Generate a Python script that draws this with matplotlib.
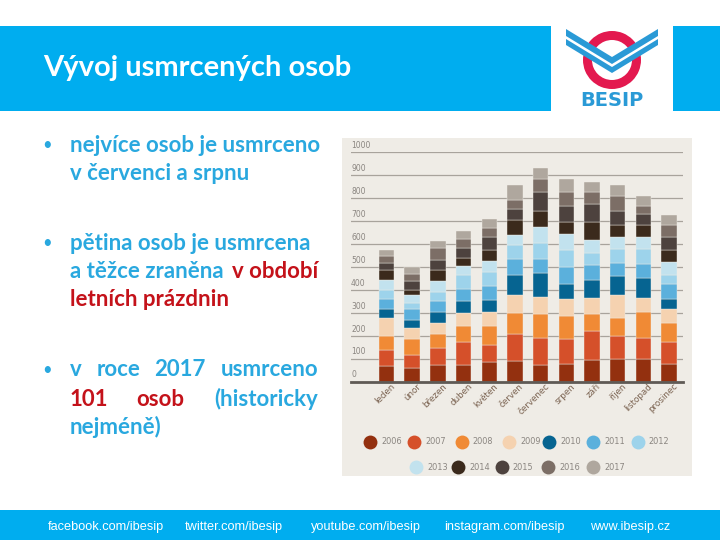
import matplotlib
matplotlib.use("Agg")
import matplotlib.pyplot as plt
import numpy as np
from matplotlib.patches import Rectangle, Wedge, Polygon

months = ["leden", "únor", "březen", "duben", "květen", "červen",
          "červenec", "srpen", "září", "říjen", "listopad", "prosinec"]
years = ["2006", "2007", "2008", "2009", "2010", "2011",
         "2012", "2013", "2014", "2015", "2016", "2017"]

# deaths per month (one list per year)
y2006 = [67, 58, 71, 71, 87, 92, 74, 79, 96, 101, 101, 76]
y2007 = [70, 60, 75, 100, 72, 114, 118, 105, 123, 97, 91, 95]
y2008 = [63, 67, 60, 70, 82, 94, 102, 102, 74, 79, 111, 83]
y2009 = [78, 50, 49, 59, 64, 79, 76, 73, 73, 99, 63, 65]
y2010 = [38, 32, 47, 51, 52, 85, 102, 65, 77, 83, 86, 40]
y2011 = [44, 48, 48, 51, 60, 70, 62, 77, 64, 57, 61, 65]
y2012 = [41, 29, 42, 62, 61, 64, 69, 75, 54, 64, 67, 41]
y2013 = [41, 32, 45, 42, 50, 41, 70, 67, 56, 51, 51, 57]
y2014 = [45, 25, 50, 35, 46, 65, 72, 55, 78, 53, 50, 52]
y2015 = [30, 38, 45, 41, 57, 50, 83, 69, 79, 59, 49, 57]
y2016 = [30, 29, 50, 39, 38, 38, 55, 60, 53, 66, 37, 53]
y2017 = [29, 32, 30, 35, 39, 64, 49, 56, 42, 47, 42, 43]
series = [y2006, y2007, y2008, y2009, y2010, y2011,
          y2012, y2013, y2014, y2015, y2016, y2017]

colors = ["#93300F", "#D5502A", "#F08A35", "#F5D2B0", "#066491", "#5BB0DC",
          "#9DD3EB", "#C2E2EE", "#3B2A1C", "#4D423E", "#7C6E66", "#AFA79E"]

yticks = [0, 100, 200, 300, 400, 500, 600, 700, 800, 900, 1000]

BLUE = "#00ADEF"
TXT_BLUE = "#29A8DF"
RED = "#C4121A"
BG = "#EFECE6"

fig = plt.figure(figsize=(7.2, 5.4), dpi=100)
fig.patch.set_facecolor("white")

# slide layer in pixel coordinates
ax0 = fig.add_axes([0, 0, 1, 1])
ax0.set_xlim(0, 720)
ax0.set_ylim(540, 0)
ax0.axis("off")

# header
ax0.add_patch(Rectangle((0, 26), 551, 85, color=BLUE, lw=0))
ax0.add_patch(Rectangle((673, 26), 47, 85, color=BLUE, lw=0))
ax0.text(43, 68, "Vývoj usmrcených osob", color="white", fontsize=21,
         fontfamily="Lato", fontweight="bold", va="center", ha="left")

# logo
ax0.add_patch(Wedge((612, 60), 29, 0, 360, width=9, color="#E3194F", lw=0))
ax0.add_patch(Polygon([(566, 29), (612, 57), (658, 29), (658, 45), (612, 73), (566, 45)],
                      closed=True, color="#2A9AD6", lw=0))
ax0.add_patch(Polygon([(566, 36), (612, 64), (658, 36), (658, 39), (612, 67), (566, 39)],
                      closed=True, color="white", lw=0))
ax0.text(612, 100, "BESIP", color="#2A9AD6", fontsize=14, fontfamily="DejaVu Sans",
         fontweight="bold", ha="center", va="center")

# footer
ax0.add_patch(Rectangle((0, 510), 720, 30, color=BLUE, lw=0))
foot = [("facebook.com/ibesip", 48), ("twitter.com/ibesip", 185),
        ("youtube.com/ibesip", 311), ("instagram.com/ibesip", 444),
        ("www.ibesip.cz", 590)]
for t, x in foot:
    ax0.text(x, 527, t, color="white", fontsize=9.2,
             fontfamily="Liberation Sans", ha="left", va="center")

# bullet text
fkw = dict(fontsize=16, fontfamily="Lato", fontweight="bold", va="center")
for yb in (145, 243, 370):
    ax0.text(47, yb, "•", color=TXT_BLUE, ha="center", fontsize=12,
             fontfamily="Lato", va="center")
ax0.text(70, 145, "nejvíce osob je usmrceno", color=TXT_BLUE, ha="left", **fkw)
ax0.text(70, 174, "v červenci a srpnu", color=TXT_BLUE, ha="left", **fkw)
ax0.text(70, 243, "pětina osob je usmrcena", color=TXT_BLUE, ha="left", **fkw)
ax0.text(70, 271, "a těžce zraněna", color=TXT_BLUE, ha="left", **fkw)
ax0.text(318, 271, "v období", color=RED, ha="right", **fkw)
ax0.text(70, 300, "letních prázdnin", color=RED, ha="left", **fkw)
ax0.text(70, 370, "v", color=TXT_BLUE, ha="left", **fkw)
ax0.text(119, 370, "roce", color=TXT_BLUE, ha="center", **fkw)
ax0.text(180, 370, "2017", color=TXT_BLUE, ha="center", **fkw)
ax0.text(318, 370, "usmrceno", color=TXT_BLUE, ha="right", **fkw)
ax0.text(70, 399, "101", color=RED, ha="left", **fkw)
ax0.text(160, 399, "osob", color=RED, ha="center", **fkw)
ax0.text(318, 399, "(historicky", color=TXT_BLUE, ha="right", **fkw)
ax0.text(70, 427, "nejméně)", color=TXT_BLUE, ha="left", **fkw)

# chart background
ax0.add_patch(Rectangle((342, 138), 350, 338, color=BG, lw=0))

# legend
row1 = [370, 414, 461.7, 509.3, 549.3, 593.3, 637.7]
row2 = [416, 458.3, 501.7, 548.3, 593.3]
pos = [(x, 441.7) for x in row1] + [(x, 467.3) for x in row2]
for (x, y), c, yr in zip(pos, colors, years):
    ax0.scatter([x], [y], s=100, color=c, lw=0, zorder=5)
    ax0.text(x + 11, y, yr, fontsize=5.9, color="#8a8580", ha="left", va="center",
             fontfamily="DejaVu Sans")

# chart axes
L, R, T, B = 351, 683, 152.3, 381.7
ax = fig.add_axes([L / 720, 1 - B / 540, (R - L) / 720, (B - T) / 540])
ax.set_facecolor("none")
x = np.arange(len(months))
bottom = np.zeros(len(months))
for vals, c in zip(series, colors):
    ax.bar(x, vals, width=0.6, bottom=bottom, color=c, edgecolor=BG,
           linewidth=0.3, zorder=3)
    bottom += np.array(vals)

ax.set_xlim(-1.38, 11.54)
ax.set_ylim(0, 1000)
for s in ax.spines.values():
    s.set_visible(False)
ax.set_xticks([])
ax.set_yticks([])
for v in yticks[1:]:
    ax.axhline(v, color="#A8A39C", lw=0.9, zorder=1)
ax.axhline(0, color="#5F5A55", lw=2, zorder=4, clip_on=False)
for v in yticks:
    ax.text(-1.38, v + 10, str(v), fontsize=5.5, color="#8a8580",
            ha="left", va="bottom", fontfamily="DejaVu Sans")
for i, m in enumerate(months):
    ax.text(i + 0.28, -14, m, rotation=45, rotation_mode="anchor",
            ha="right", va="center", fontsize=6.3, color="#7A6250",
            fontfamily="DejaVu Sans", clip_on=False)

fig.savefig("out.png", dpi=100, facecolor="white")
